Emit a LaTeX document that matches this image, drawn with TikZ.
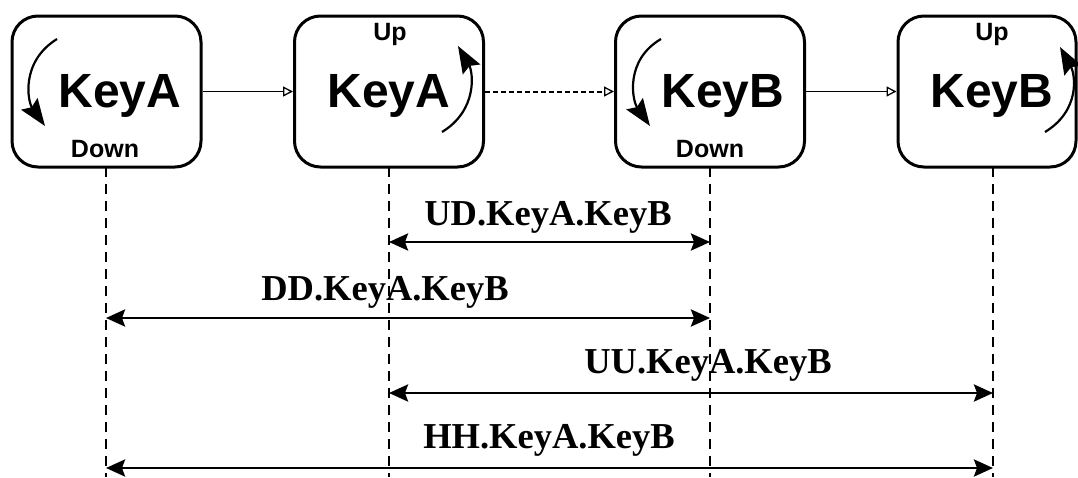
\documentclass[tikz,border=0pt]{standalone}
\usepackage{fontspec}
\setmainfont{Liberation Serif}
\newfontfamily\keyfont{Liberation Sans}
\usetikzlibrary{arrows.meta}
\tikzset{
  keybox/.style={draw, line width=3pt, rounded corners=26pt, minimum width=189pt, minimum height=151pt, inner sep=0pt},
  bigtxt/.style={font=\keyfont\fontsize{48}{48}\selectfont\bfseries, anchor=base, inner sep=0pt},
  smalltxt/.style={font=\keyfont\fontsize{25}{25}\selectfont\bfseries, anchor=base, inner sep=0pt},
  lbl/.style={font=\fontsize{36.5}{36.5}\selectfont\bfseries, anchor=base, inner sep=0pt},
  flow/.style={line width=1.3pt, -{Triangle[open, length=10pt, width=10pt, line width=1.3pt]}},
  lifeline/.style={line width=1.4pt, dash pattern=on 10pt off 7pt},
  measure/.style={line width=2.8pt, {Stealth[length=19pt, width=17pt, inset=3pt]}-{Stealth[length=19pt, width=17pt, inset=3pt]}},
  turn/.style={line width=2.2pt, -{Stealth[length=27pt, width=20pt, inset=4pt]}}
}
\begin{document}
\begin{tikzpicture}[x=1pt,y=1pt]
\useasboundingbox (0,0) rectangle (1078,-477);
% boxes
\node[keybox] (b1) at (106.5,-91.5) {};
\node[keybox] (b2) at (389,-91.5) {};
\node[keybox] (b3) at (710,-91.5) {};
\node[keybox, minimum width=178pt] (b4) at (987,-91.5) {};
% texts
\node[bigtxt] (t1) at (120,-107) {KeyA};
\node[bigtxt] (t2) at (389,-107) {KeyA};
\node[bigtxt] (t3) at (723,-107) {KeyB};
\node[bigtxt] (t4) at (992,-107) {KeyB};
\node[smalltxt] (d1) at (105,-157) {Down};
\node[smalltxt] (u2) at (390,-40) {Up};
\node[smalltxt] (d3) at (710,-157) {Down};
\node[smalltxt] (u4) at (992,-40) {Up};
% curved arrows
\draw[turn] (57,-39) .. controls (20,-62) and (28,-102) .. (45,-126);
\draw[turn] (442,-132) .. controls (478,-110) and (473,-72) .. (458,-46);
\draw[turn] (661,-39) .. controls (625,-60) and (632,-100) .. (650,-126);
\draw[turn] (1045,-132) .. controls (1081,-110) and (1075,-74) .. (1060,-47);
% flow connectors
\draw[flow] (b1.east) -- (b2.west);
\draw[flow, dash pattern=on 5pt off 3pt, line width=2pt] (b2.east) -- (b3.west);
\draw[flow] (b3.east) -- (b4.west);
% lifelines
\coordinate (e1) at (106,-477);
\coordinate (e2) at (389,-477);
\coordinate (e3) at (710,-477);
\coordinate (e4) at (993,-477);
\coordinate (s1) at (106,-167);
\coordinate (s2) at (389,-167);
\coordinate (s3) at (710,-167);
\coordinate (s4) at (993,-167);
\draw[lifeline] (s1) -- (e1);
\draw[lifeline] (s2) -- (e2);
\draw[lifeline] (s3) -- (e3);
\draw[lifeline] (s4) -- (e4);
% measurement arrows
\coordinate (ud1) at (389,-242); \coordinate (ud2) at (710,-242);
\coordinate (dd1) at (106,-318); \coordinate (dd2) at (710,-318);
\coordinate (uu1) at (389,-393); \coordinate (uu2) at (993,-393);
\coordinate (hh1) at (106,-468); \coordinate (hh2) at (993,-468);
\draw[measure] (ud1) -- (ud2);
\draw[measure] (dd1) -- (dd2);
\draw[measure] (uu1) -- (uu2);
\draw[measure] (hh1) -- (hh2);
\node[lbl] (lud) at (548,-225) {UD.KeyA.KeyB};
\node[lbl] (ldd) at (385,-300) {DD.KeyA.KeyB};
\node[lbl] (luu) at (708,-373) {UU.KeyA.KeyB};
\node[lbl] (lhh) at (549,-448) {HH.KeyA.KeyB};
\end{tikzpicture}
\end{document}
